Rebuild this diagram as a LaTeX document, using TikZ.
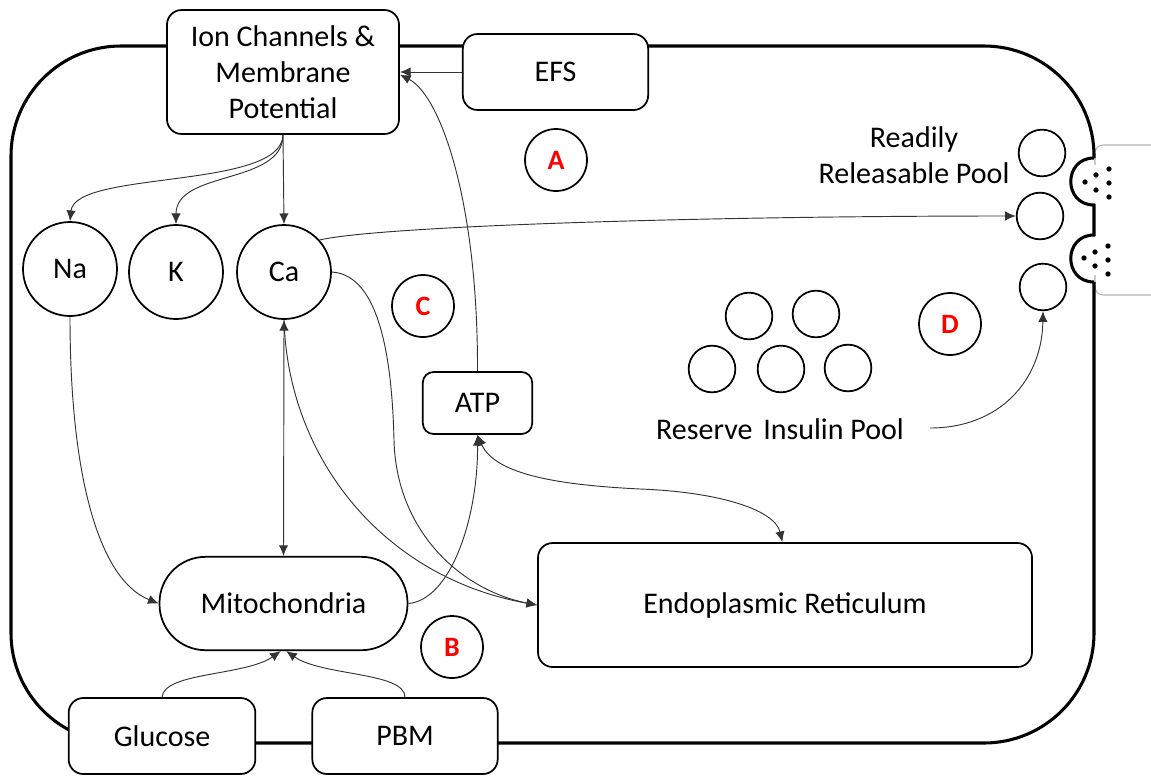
\documentclass[tikz,border=0pt]{standalone}
\usepackage{fontspec}
\setmainfont{Carlito}
\usetikzlibrary{arrows.meta}
\begin{document}
\begin{tikzpicture}[x=0.75pt,y=-0.75pt,
  box/.style={draw, line width=1.3pt, rounded corners=11pt, fill=white, align=center, inner sep=0pt},
  ion/.style={draw, circle, line width=1.3pt, inner sep=0pt, minimum size=70.5pt, fill=white, font=\fontsize{22.5}{27}\selectfont},
  ves/.style={draw, circle, line width=1.3pt, inner sep=0pt, minimum size=35pt},
  lab/.style={draw, circle, line width=1.3pt, inner sep=0pt, minimum size=46.5pt, text=red, font=\fontsize{21}{25}\selectfont\bfseries},
  arr/.style={draw=black!80, line width=0.7pt, -{Latex[length=8pt,width=7pt]}},
  darr/.style={draw=black!80, line width=0.7pt, {Latex[length=8pt,width=7pt]}-{Latex[length=8pt,width=7pt]}},
  cell/.style={line width=2.3pt},
  txt/.style={align=center, inner sep=0pt},
  big/.style={font=\fontsize{22.5}{27}\selectfont}
]
\useasboundingbox (0,0) rectangle (1151,775);

% outside region (light grey)
\draw[black!30, line width=0.8pt, rounded corners=6pt] (1151,145) -- (1095,145) -- (1095,165);
\draw[black!30, line width=0.8pt, rounded corners=6pt] (1151,295) -- (1095,295) -- (1095,275);

% cell membrane
\draw[cell, rounded corners=82.5pt] (1094,282) -- (1094,743) -- (11,743) -- (11,46) -- (1094,46) -- (1094,158);
\draw[cell] (1094,158) .. controls (1063,158) and (1063,205) .. (1094,205) -- (1094,235)
  .. controls (1063,235) and (1063,282) .. (1094,282);

% insulin granules fusing
\foreach \p in {(1085,182),(1096,175),(1096,190),(1109,169),(1109,183),(1109,197),
                (1084,258),(1095,252),(1095,266),(1108,246),(1108,260),(1108,274)}
  \fill \p circle[radius=2pt];

% boxes
\node[box, minimum width=174pt, minimum height=93pt, big] (ion) at (283,72) {Ion Channels \&\\Membrane\\Potential};
\node[box, minimum width=139pt, minimum height=57pt, big] (efs) at (555.5,72) {EFS};
\node[box, minimum width=82pt, minimum height=46.5pt, rounded corners=8pt, big] (atp) at (477.5,403) {ATP};
\node[box, minimum width=186pt, minimum height=70pt, rounded corners=34.5pt, big] (mito) at (283.5,603.5) {Mitochondria};
\node[box, minimum width=140pt, minimum height=57pt, big] (glu) at (162,736) {Glucose};
\node[box, minimum width=139pt, minimum height=57pt, big] (pbm) at (405,736) {PBM};
\node[box, minimum width=370.5pt, minimum height=93pt, big] (er) at (785,605) {Endoplasmic Reticulum};

% ions
\node[ion] (na) at (70,269) {Na};
\node[ion] (k) at (176,272) {K};
\node[ion] (ca) at (284,272) {Ca};

% labels
\node[lab] (A) at (556,160) {A};
\node[lab] (B) at (452,647) {B};
\node[lab] (C) at (423,306) {C};
\node[lab] (D) at (950,324) {D};

% reserve pool
\node[ves] (r1) at (749,316) {};
\node[ves] (r2) at (816,314) {};
\node[ves] (r3) at (712,369) {};
\node[ves] (r4) at (781,369) {};
\node[ves] (r5) at (848,368) {};
\node[txt, big] (rtxt) at (780,429) {Reserve\hspace{3pt} Insulin Pool};
\coordinate (rstart) at (930,428);

% readily releasable pool
\node[ves] (p1) at (1042,153) {};
\node[ves] (p2) at (1040,216) {};
\node[ves] (p3) at (1043,287) {};
\node[txt, big] (ptxt) at (914,155) {Readily\\Releasable Pool};

% connectors
\draw[arr] (efs.west) -- (ion.east);
\draw[arr] (atp.north) .. controls (478,200) and (440,95) .. ([yshift=-2pt]ion.east);
\draw[arr] (ion.south) .. controls (282,190) and (75,170) .. (na.north);
\draw[arr] (ion.south) .. controls (283,185) and (176,170) .. (k.north);
\draw[arr] (ion.south) -- (ca.north);
\draw[darr] (ca.south) -- (mito.north);
\draw[arr] (ca.42) .. controls (380,226) and (700,216) .. (p2.west);
\draw[arr] (ca.east) .. controls (380,275) and (392,360) .. (394,440) .. controls (396,530) and (460,590) .. (er.west);
\draw[arr] (ca.south) .. controls (288,460) and (385,578) .. (er.west);
\draw[arr] (mito.east) .. controls (450,600) and (478,520) .. (atp.south);
\draw[darr] (atp.south) .. controls (495,475) and (560,485) .. (640,489) .. controls (720,492) and (775,510) .. ([xshift=-2pt]er.north);
\draw[arr] (na.south) .. controls (70,480) and (100,580) .. (mito.west);
\draw[arr] (glu.north) .. controls (164,672) and (245,676) .. ([xshift=-2pt]mito.south);
\draw[arr] (pbm.north) .. controls (405,672) and (322,676) .. ([xshift=2pt]mito.south);
\draw[arr] (rstart) .. controls (1000,428) and (1042,380) .. (p3.south);
\end{tikzpicture}
\end{document}
